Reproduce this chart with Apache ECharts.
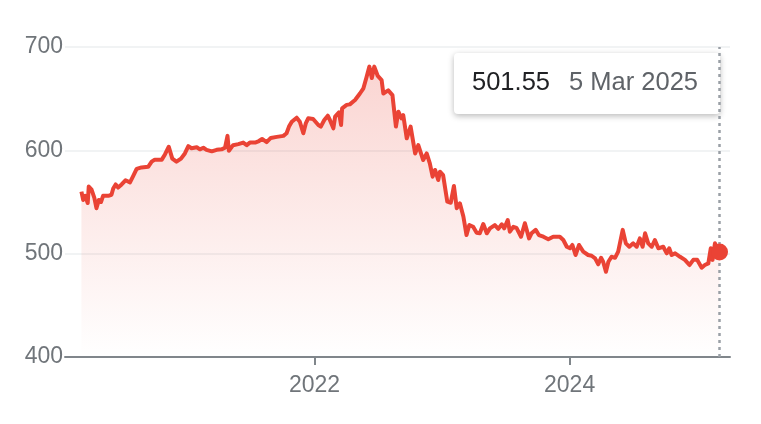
<!DOCTYPE html>
<html>
<head>
<meta charset="utf-8">
<script src="https://cdn.jsdelivr.net/npm/echarts@6/dist/echarts.min.js"></script>
<style>
  html, body { margin: 0; padding: 0; background: #ffffff; }
  #chart { width: 761px; height: 424px; }
</style>
</head>
<body>
<div id="chart"></div>
<script>
// ---- Data ----
var dates = [
  '2020-03-05','2020-03-10','2020-03-16','2020-03-23','2020-03-26','2020-04-03','2020-04-11','2020-04-17','2020-04-24','2020-04-30',
  '2020-05-06','2020-05-21','2020-05-30','2020-06-04','2020-06-11','2020-06-18','2020-06-28','2020-07-09','2020-07-22','2020-07-31',
  '2020-08-10','2020-08-24','2020-09-12','2020-09-22','2020-10-01','2020-10-21','2020-10-30','2020-11-10','2020-11-20','2020-12-02',
  '2020-12-15','2020-12-26','2021-01-05','2021-01-14','2021-01-29','2021-02-07','2021-02-17','2021-02-26','2021-03-13','2021-03-27',
  '2021-04-10','2021-04-20','2021-04-27','2021-05-01','2021-05-13','2021-05-28','2021-06-11','2021-06-21','2021-06-30','2021-07-15',
  '2021-07-26','2021-08-04','2021-08-17','2021-08-29','2021-09-15','2021-10-04','2021-10-13','2021-10-20','2021-10-28','2021-11-11',
  '2021-11-20','2021-11-30','2021-12-07','2021-12-14','2021-12-28','2022-01-12','2022-01-19','2022-01-29','2022-02-08','2022-02-14',
  '2022-02-24','2022-03-01','2022-03-12','2022-03-18','2022-03-21','2022-04-03','2022-04-12','2022-04-27','2022-05-11','2022-05-21',
  '2022-05-30','2022-06-07','2022-06-14','2022-06-21','2022-07-01','2022-07-12','2022-07-17','2022-07-31','2022-08-12','2022-08-22',
  '2022-08-29','2022-09-07','2022-09-12','2022-09-22','2022-10-03','2022-10-16','2022-10-25','2022-11-08','2022-11-18','2022-11-27',
  '2022-12-05','2022-12-12','2022-12-21','2022-12-26','2023-01-04','2023-01-16','2023-01-26','2023-02-04','2023-02-12','2023-02-21',
  '2023-03-03','2023-03-12','2023-03-20','2023-03-31','2023-04-10','2023-04-19','2023-04-29','2023-05-09','2023-05-18','2023-06-01',
  '2023-06-11','2023-06-21','2023-06-28','2023-07-08','2023-07-14','2023-07-24','2023-08-02','2023-08-15','2023-08-26','2023-09-07',
  '2023-09-14','2023-09-26','2023-10-05','2023-10-18','2023-11-01','2023-11-15','2023-12-04','2023-12-14','2023-12-24','2024-01-02',
  '2024-01-09','2024-01-18','2024-01-28','2024-02-09','2024-02-23','2024-03-04','2024-03-14','2024-03-23','2024-03-31','2024-04-06',
  '2024-04-14','2024-04-21','2024-04-30','2024-05-10','2024-05-19','2024-06-01','2024-06-10','2024-06-20','2024-07-01','2024-07-11',
  '2024-07-20','2024-07-28','2024-08-04','2024-08-13','2024-08-23','2024-09-01','2024-09-11','2024-09-25','2024-10-05','2024-10-12',
  '2024-10-19','2024-10-29','2024-11-12','2024-11-26','2024-12-09','2024-12-20','2024-12-31','2025-01-13','2025-01-22','2025-02-01',
  '2025-02-08','2025-02-13','2025-02-20','2025-02-27','2025-03-05'
];
var prices = [
  560, 552, 556, 549, 565, 562, 554, 544, 552, 550,
  556, 556, 557, 563, 567, 564, 567, 571, 569, 575,
  582, 583.5, 584, 589, 591, 591, 596, 603.5, 592, 589,
  592, 597, 604, 602, 603, 601, 602.5, 600.5, 599, 600.5,
  601, 602.5, 614, 599.5, 605, 606, 607.5, 605, 607.5, 607.5,
  609, 611, 608, 612, 613, 614, 616.5, 623, 627.7, 631.6,
  627.7, 616.5, 626, 631, 630.3, 624.5, 623, 629.4, 633.5, 629.4,
  621.3, 632.6, 636.8, 624.5, 640.7, 644, 644.5, 648.7, 655, 660,
  671, 681, 670, 681, 672, 668, 655, 658, 653.5, 623,
  637.4, 631, 634, 611.6, 623, 597, 605, 590.6, 597, 587.4,
  574.5, 581, 571.3, 579.3, 576, 550.3, 549.3, 565.5, 544, 548.7,
  536, 518, 527.7, 526, 520.3, 519.7, 528.7, 519.7, 524.5, 527.7,
  524, 528.4, 524.5, 532.6, 521.3, 526, 525, 516.4, 529.4, 514.8,
  519.7, 523, 518, 516.4, 514, 516.4, 516.4, 513.2, 506.7, 505.2,
  508.4, 498.7, 508.4, 502, 498.7, 498, 495.5, 489.7, 496, 492.2,
  482.5, 492.2, 497, 496, 502, 523, 510, 506.7, 510, 506.7,
  514.8, 506.7, 519.7, 510, 506.7, 513.2, 505.2, 506.7, 500.3, 505.2,
  498.7, 500.3, 497, 494, 489, 494, 494, 486.4, 489, 490.6,
  505.2, 494, 510, 502, 501.55
];
var yTicks = [400, 500, 600, 700];
var xTickYears = [2022, 2024];
var monthNames = ['Jan','Feb','Mar','Apr','May','Jun','Jul','Aug','Sep','Oct','Nov','Dec'];

// ---- Build ----
function toTs(s) { var p = s.split('-'); return new Date(+p[0], +p[1] - 1, +p[2]).getTime(); }
var seriesData = dates.map(function (d, i) { return [toTs(d), prices[i]]; });
var last = seriesData[seriesData.length - 1];
var lastDate = new Date(last[0]);
var lastDateText = lastDate.getDate() + ' ' + monthNames[lastDate.getMonth()] + ' ' + lastDate.getFullYear();
var lastValueText = last[1].toFixed(2);
var yearTicks = xTickYears.map(function (y) { return new Date(y, 0, 1).getTime(); });

var chart = echarts.init(document.getElementById('chart'), null, { renderer: 'canvas' });
var FONT = '"Liberation Sans", Arial, sans-serif';
chart.setOption({
  animation: false,
  backgroundColor: '#ffffff',
  textStyle: { fontFamily: FONT },
  grid: { left: 65, right: 31, top: 47, bottom: 67, containLabel: false },
  xAxis: {
    type: 'value',
    scale: true,
    min: new Date(2020, 0, 18).getTime(),
    max: new Date(2025, 3, 4).getTime(),
    axisLine: { show: true, onZero: false, lineStyle: { color: '#80868b', width: 2 } },
    axisTick: { show: true, customValues: yearTicks, length: 8, lineStyle: { color: '#80868b', width: 2 } },
    axisLabel: {
      show: true, customValues: yearTicks, color: '#70757a', fontSize: 23, margin: 17, fontFamily: FONT,
      formatter: function (v) { return String(new Date(v).getFullYear()); }
    },
    splitLine: { show: false }
  },
  yAxis: {
    type: 'value',
    min: yTicks[0], max: yTicks[yTicks.length - 1], interval: 100,
    axisLine: { show: false }, axisTick: { show: false },
    axisLabel: { color: '#70757a', fontSize: 23, margin: 2, fontFamily: FONT },
    splitLine: { show: true, lineStyle: { color: '#f1f3f4', width: 2 } }
  },
  series: [
    {
      type: 'line',
      data: seriesData,
      showSymbol: false,
      symbol: 'none',
      lineStyle: { color: '#ea4335', width: 4, join: 'round' },
      areaStyle: {
        color: new echarts.graphic.LinearGradient(0, 0, 0, 1, [
          { offset: 0, color: 'rgba(234,67,53,0.32)' },
          { offset: 1, color: 'rgba(234,67,53,0.00)' }
        ])
      },
      markLine: {
        silent: true,
        symbol: ['none', 'none'],
        label: { show: false },
        lineStyle: { color: '#9aa0a6', width: 2.5, type: [3, 4] },
        data: [{ xAxis: last[0] }]
      },
      z: 3
    },
    {
      type: 'scatter',
      data: [last],
      symbol: 'circle',
      symbolSize: 17,
      itemStyle: { color: '#ea4335', opacity: 1 },
      z: 6
    }
  ],
  graphic: [
    {
      type: 'group',
      left: 454, top: 53,
      z: 100,
      children: [
        {
          type: 'rect',
          shape: { x: 0, y: 0, width: 266, height: 61, r: 4 },
          style: { fill: '#ffffff', shadowBlur: 6, shadowOffsetY: 2, shadowColor: 'rgba(0,0,0,0.28)' }
        },
        {
          type: 'text',
          x: 18, y: 30,
          style: { text: lastValueText, fill: '#202124', font: '25.5px ' + FONT, verticalAlign: 'middle' }
        },
        {
          type: 'text',
          x: 115, y: 30,
          style: { text: lastDateText, fill: '#5f6368', font: '25.5px ' + FONT, verticalAlign: 'middle' }
        }
      ]
    }
  ]
});
</script>
</body>
</html>
